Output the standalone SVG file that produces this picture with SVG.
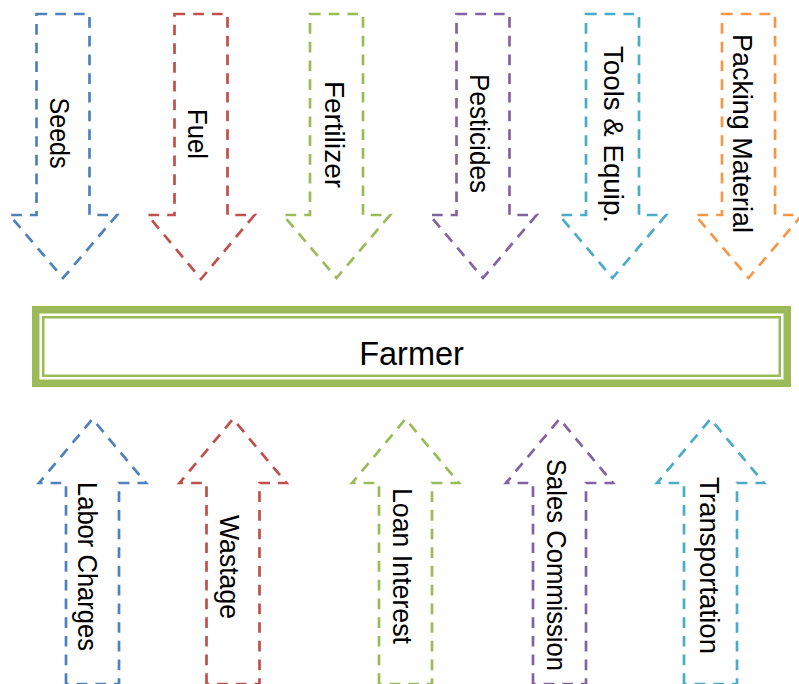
<svg xmlns="http://www.w3.org/2000/svg" width="799" height="684" viewBox="0 0 799 684">
  <style>
    .arrow { fill: #FFFFFF; stroke-width: 2.7; stroke-dasharray: 10.7 8; stroke-linejoin: miter; }
    .blue { stroke: #4F81BD; }
    .red { stroke: #C0504D; }
    .green { stroke: #9BBB59; }
    .purple { stroke: #8064A2; }
    .aqua { stroke: #4BACC6; }
    .orange { stroke: #F79646; }
    .label { font-family: "Liberation Sans", Arial, sans-serif; font-size: 27px; fill: #000000; text-anchor: middle; }
    .title { font-family: "Liberation Sans", Arial, sans-serif; font-size: 32.5px; fill: #000000; text-anchor: middle; }
  </style>
  <rect x="0" y="0" width="799" height="684" fill="#FFFFFF"/>

  <!-- Inputs flowing down into the farmer -->
  <g id="inputs">
    <g id="seeds">
      <path class="arrow blue" d="M36.5,14 H89.5 V215 H117 L63,278 L9.5,215 H36.5 Z"/>
      <text class="label" transform="translate(50,133) rotate(90)" textLength="71" lengthAdjust="spacingAndGlyphs">Seeds</text>
    </g>
    <g id="fuel">
      <path class="arrow red" d="M174.5,14 H227.5 V215 H254.5 L201,279 L147.5,215 H174.5 Z"/>
      <text class="label" transform="translate(188,134) rotate(90)" textLength="50" lengthAdjust="spacingAndGlyphs">Fuel</text>
    </g>
    <g id="fertilizer">
      <path class="arrow green" d="M310,14 H363 V215 H390 L336.5,278 L283,215 H310 Z"/>
      <text class="label" transform="translate(325,134.5) rotate(90)" textLength="107" lengthAdjust="spacingAndGlyphs">Fertilizer</text>
    </g>
    <g id="pesticides">
      <path class="arrow purple" d="M456.5,14 H509.5 V215 H536.5 L483,278 L429.5,215 H456.5 Z"/>
      <text class="label" transform="translate(470,133.5) rotate(90)" textLength="119" lengthAdjust="spacingAndGlyphs">Pesticides</text>
    </g>
    <g id="tools-equip">
      <path class="arrow aqua" d="M586,14 H639 V215 H666 L612.5,278 L559,215 H586 Z"/>
      <text class="label" transform="translate(604,134.5) rotate(90)" textLength="177" lengthAdjust="spacingAndGlyphs">Tools &amp; Equip.</text>
    </g>
    <g id="packing-material">
      <path class="arrow orange" d="M722,14 H775 V215 H802 L748.5,278 L695,215 H722 Z"/>
      <text class="label" transform="translate(733,133.5) rotate(90)" textLength="199" lengthAdjust="spacingAndGlyphs">Packing Material</text>
    </g>
  </g>

  <!-- Central node: thick-thin green frame -->
  <g id="farmer">
    <rect x="35.75" y="309.75" width="751.5" height="73.5" fill="#FFFFFF" stroke="#9BBB59" stroke-width="7.5"/>
    <rect x="43.25" y="317.25" width="736.5" height="58.5" fill="none" stroke="#9BBB59" stroke-width="2.5"/>
    <text class="title" x="411.5" y="365">Farmer</text>
  </g>

  <!-- Costs flowing up out of the farmer -->
  <g id="outputs">
    <g id="labor-charges">
      <path class="arrow blue" d="M66,684 V483 H39 L92.5,419 L146,483 H119 V684 Z"/>
      <text class="label" transform="translate(78,566.5) rotate(90)" textLength="169" lengthAdjust="spacingAndGlyphs">Labor Charges</text>
    </g>
    <g id="wastage">
      <path class="arrow red" d="M206.5,684 V483 H179.5 L233,419 L286.5,483 H259.5 V684 Z"/>
      <text class="label" transform="translate(220,567) rotate(90)" textLength="104" lengthAdjust="spacingAndGlyphs">Wastage</text>
    </g>
    <g id="loan-interest">
      <path class="arrow green" d="M379,684 V483 H352 L405.5,419 L459,483 H432 V684 Z"/>
      <text class="label" transform="translate(393,566) rotate(90)" textLength="156" lengthAdjust="spacingAndGlyphs">Loan Interest</text>
    </g>
    <g id="sales-commission">
      <path class="arrow purple" d="M533,684 V483 H506 L559.5,419 L613,483 H586 V684 Z"/>
      <text class="label" transform="translate(547,565) rotate(90)" textLength="212" lengthAdjust="spacingAndGlyphs">Sales Commission</text>
    </g>
    <g id="transportation">
      <path class="arrow aqua" d="M684,684 V483 H657 L710.5,419 L764,483 H737 V684 Z"/>
      <text class="label" transform="translate(700,565.5) rotate(90)" textLength="177" lengthAdjust="spacingAndGlyphs">Transportation</text>
    </g>
  </g>

  <!-- No separate connector lines: the block arrows carry the flows -->
  <g id="connectors"/>
</svg>
